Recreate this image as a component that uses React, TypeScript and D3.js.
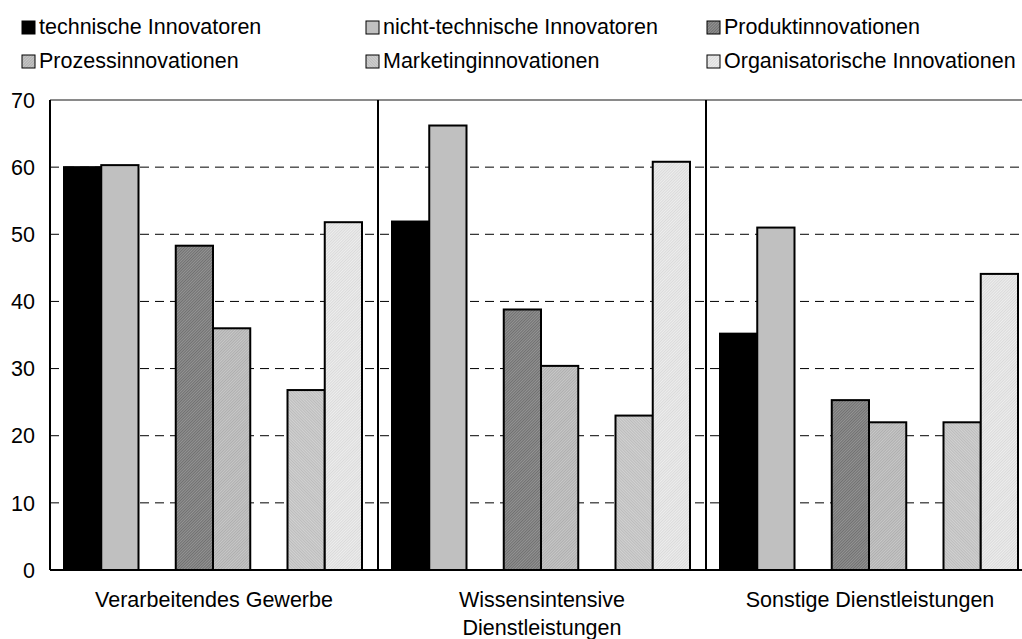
import React from "react";
import * as d3 from "d3";

const categories = ["Verarbeitendes Gewerbe", "Wissensintensive Dienstleistungen", "Sonstige Dienstleistungen"];
const categoryLines = [["Verarbeitendes Gewerbe"], ["Wissensintensive", "Dienstleistungen"], ["Sonstige Dienstleistungen"]];

const seriesNames = [
  "technische Innovatoren",
  "nicht-technische Innovatoren",
  "Produktinnovationen",
  "Prozessinnovationen",
  "Marketinginnovationen",
  "Organisatorische Innovationen",
];
const technische = [60.0, 51.9, 35.2];
const nichtTechnische = [60.3, 66.2, 51.0];
const produkt = [48.3, 38.8, 25.3];
const prozess = [36.0, 30.4, 22.0];
const marketing = [26.8, 23.0, 22.0];
const organisatorisch = [51.8, 60.8, 44.1];
const seriesValues = [technische, nichtTechnische, produkt, prozess, marketing, organisatorisch];
const yTicks = [0, 10, 20, 30, 40, 50, 60, 70];

const FONT = "'Liberation Sans', Arial, sans-serif";

const fills = ["#000000", "#c0c0c0", "url(#pProd)", "url(#pProz)", "url(#pMark)", "url(#pOrg)"];

export default function App() {
  const W = 1022, H = 639;
  const left = 50, top = 100, bottom = 570;
  const y = d3.scaleLinear().domain([0, 70]).range([bottom, top]);
  const x = d3.scaleBand().domain(categories).range([left, left + 3 * 328]).padding(0);
  const pair = d3.scaleBand().domain(["p0", "p1", "p2"]).range([14, 312]).paddingInner(1 / 3).paddingOuter(0);
  const inner = d3.scaleBand().domain(["a", "b"]).range([0, pair.bandwidth()]);
  const pairs = ["p0", "p1", "p2"];

  const legendCols = [22, 366, 707];
  const legendRows = [34, 68];
  const fs = 21.5;

  return (
    <svg width={W} height={H} style={{ position: "absolute", left: 0, top: 0, background: "#fff" }} fontFamily={FONT}>
      <defs>
        <pattern id="pProd" width="2" height="2" patternUnits="userSpaceOnUse" patternTransform="rotate(45)">
          <rect width="2" height="2" fill="#707070" />
          <rect width="1" height="2" fill="#949494" />
        </pattern>
        <pattern id="pProz" width="2" height="2" patternUnits="userSpaceOnUse" patternTransform="rotate(45)">
          <rect width="2" height="2" fill="#c8c8c8" />
          <rect width="1" height="2" fill="#aeaeae" />
        </pattern>
        <pattern id="pMark" width="2" height="2" patternUnits="userSpaceOnUse" patternTransform="rotate(-45)">
          <rect width="2" height="2" fill="#d2d2d2" />
          <rect width="1" height="2" fill="#bcbcbc" />
        </pattern>
        <pattern id="pOrg" width="2" height="2" patternUnits="userSpaceOnUse" patternTransform="rotate(45)">
          <rect width="2" height="2" fill="#eeeeee" />
          <rect width="1" height="2" fill="#dadada" />
        </pattern>
      </defs>
      <rect x={0} y={0} width={W} height={H} fill="#fff" />

      {/* legend */}
      {seriesNames.map((name, i) => {
        const cx = legendCols[i % 3];
        const by = legendRows[Math.floor(i / 3)];
        return (
          <g key={name}>
            <rect x={cx} y={by - 13} width={13} height={13} fill={fills[i]} stroke="#000" strokeWidth={1} />
            <text x={cx + 17} y={by} fontSize={fs} fill="#000">{name}</text>
          </g>
        );
      })}

      {/* gridlines */}
      {yTicks.filter((t) => t > 0 && t < 70).map((t) => (
        <line key={t} x1={left} x2={W} y1={y(t)} y2={y(t)} stroke="#000" strokeWidth={1} strokeDasharray="9 6" />
      ))}
      <line x1={left} x2={W} y1={y(70)} y2={y(70)} stroke="#8a8a8a" strokeWidth={2} />

      {/* separators */}
      {categories.slice(1).map((c) => (
        <line key={c} x1={x(c)!} x2={x(c)!} y1={y(70)} y2={y(0)} stroke="#000" strokeWidth={2} />
      ))}

      {/* bars */}
      {categories.map((c, gi) =>
        pairs.map((p, pi) =>
          ["a", "b"].map((s, si) => {
            const k = pi * 2 + si;
            const v = seriesValues[k][gi];
            const bx = x(c)! + pair(p)! + inner(s)!;
            return (
              <rect key={`${gi}-${k}`} x={bx} y={y(v)} width={inner.bandwidth()} height={y(0) - y(v)}
                fill={fills[k]} stroke="#000" strokeWidth={2} />
            );
          })
        )
      )}

      {/* axes */}
      <line x1={left} x2={left} y1={y(70)} y2={y(0)} stroke="#000" strokeWidth={2} />
      <line x1={left} x2={W} y1={y(0)} y2={y(0)} stroke="#000" strokeWidth={2} />
      {yTicks.map((t) => (
        <text key={t} x={35} y={y(t)} dy="0.36em" textAnchor="end" fontSize={fs} fill="#000">{t}</text>
      ))}

      {/* category labels */}
      {categories.map((c, gi) => (
        <text key={c} x={x(c)! + x.bandwidth() / 2} y={607} textAnchor="middle" fontSize={fs} fill="#000">
          {categoryLines[gi].map((line, li) => (
            <tspan key={li} x={x(c)! + x.bandwidth() / 2} y={607 + li * 28}>{line}</tspan>
          ))}
        </text>
      ))}
    </svg>
  );
}
